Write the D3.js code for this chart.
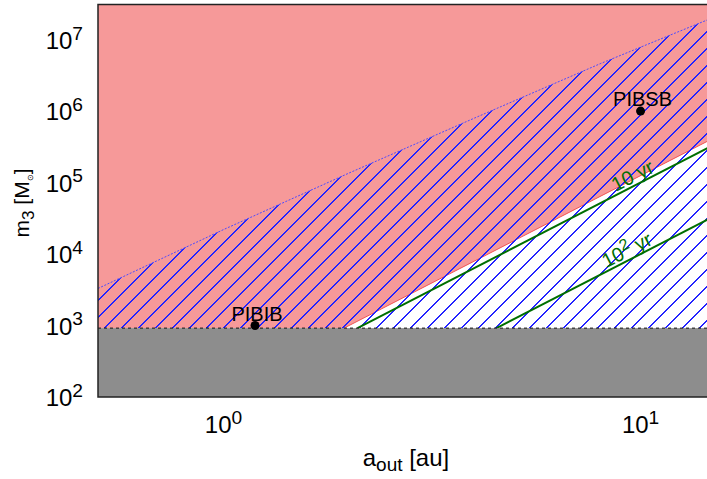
<!DOCTYPE html>
<html>
<head>
<meta charset="utf-8">
<script src="https://cdn.jsdelivr.net/npm/d3@7"></script>
<style>
  body { margin: 0; background: #fff; }
  text { font-family: "Liberation Sans", Arial, sans-serif; }
</style>
</head>
<body>
<svg id="chart" width="707" height="479"></svg>
<script>
"use strict";

// axes
const xDomain = [0.5, 15];
const yDomain = [100, 3.1e7];
const xTicks = [1, 10];
const yTicks = [1e2, 1e3, 1e4, 1e5, 1e6, 1e7];

// lower limit on m3 (grey band)
const massFloor = 920;

// upper edge of the hatched region (dotted blue curve)
const hatchTopA = [0.5, 1, 2, 4, 8, 15];
const hatchTopM = [3.3e3, 2.2e4, 1.36e5, 8.0e5, 4.6e6, 2.06e7];

// lower edge of the red region
const redEdgeA = [1.945, 15];
const redEdgeM = [massFloor, 4.22e5];

// timescale lines
const periodLabels = ["10", "10^2"];
const periodA = [[2.095, 15], [4.514, 15]];
const periodM = [[massFloor, 3.375e5], [massFloor, 3.375e4]];

// systems
const systemNames = ["PIBIB", "PIBSB"];
const systemA = [1.19, 10];
const systemM = [1e3, 1e6];

const svg = d3.select("#chart");
const mLeft = 98, mRight = 714, mTop = 4.5, mBottom = 397;
const hatchStep = 17;

const x = d3.scaleLog().domain(xDomain).range([mLeft, mRight]);
const y = d3.scaleLog().domain(yDomain).range([mBottom, mTop]);

const line = d3.line().x(d => x(d[0])).y(d => y(d[1]));

const hatchTop = hatchTopA.map((a, i) => [a, hatchTopM[i]]);
const hatchPoly = hatchTop.concat([[xDomain[1], massFloor], [xDomain[0], massFloor]]);

const defs = svg.append("defs");
defs.append("clipPath").attr("id", "plotclip")
    .append("rect")
    .attr("x", mLeft).attr("y", mTop)
    .attr("width", mRight - mLeft).attr("height", mBottom - mTop);
defs.append("clipPath").attr("id", "hatchclip")
    .append("path")
    .attr("d", line(hatchPoly) + "Z");

const plot = svg.append("g").attr("clip-path", "url(#plotclip)");

// red (excluded) region
const redPoly = [[xDomain[0], yDomain[1]], [xDomain[1], yDomain[1]]]
    .concat(redEdgeA.map((a, i) => [a, redEdgeM[i]]).reverse())
    .concat([[xDomain[0], massFloor]]);
plot.append("path")
    .attr("d", line(redPoly) + "Z")
    .attr("fill", "#f69999");

// red edge
plot.append("path")
    .attr("d", line(redEdgeA.map((a, i) => [a, redEdgeM[i]])))
    .attr("fill", "none")
    .attr("stroke", "#f05050")
    .attr("stroke-width", 1);

// hatched region, lines at 45 degrees
const hatchG = plot.append("g").attr("clip-path", "url(#hatchclip)");
hatchG.selectAll("line")
    .data(d3.range(mLeft + mTop + 7, mRight + mBottom, hatchStep))
    .enter()
    .append("line")
    .attr("x1", c => c - mBottom).attr("y1", mBottom)
    .attr("x2", c => c - mTop).attr("y2", mTop)
    .attr("stroke", "#2424ff")
    .attr("stroke-width", 1.1)
    .attr("shape-rendering", "crispEdges");

plot.append("path")
    .attr("d", line(hatchTop))
    .attr("fill", "none")
    .attr("stroke", "#4b4bff")
    .attr("stroke-width", 1)
    .attr("stroke-dasharray", "2,1.5");

// timescale lines
periodA.forEach((as, k) => {
    plot.append("path")
        .attr("d", line(as.map((a, i) => [a, periodM[k][i]])))
        .attr("fill", "none")
        .attr("stroke", "#006e00")
        .attr("stroke-width", 2);
});

// grey band
plot.append("rect")
    .attr("x", mLeft).attr("y", y(massFloor))
    .attr("width", mRight - mLeft).attr("height", mBottom - y(massFloor))
    .attr("fill", "#8d8d8d");
plot.append("line")
    .attr("x1", mLeft).attr("x2", mRight)
    .attr("y1", y(massFloor)).attr("y2", y(massFloor))
    .attr("stroke", "#111")
    .attr("stroke-width", 1)
    .attr("stroke-dasharray", "3,3");

function powerText(sel, s, size) {
    const parts = s.split("^");
    sel.append("tspan").text(parts[0]);
    if (parts.length > 1) {
        sel.append("tspan")
            .attr("font-size", size * 0.8)
            .attr("dy", -size * 0.38)
            .text(parts[1]);
    }
}

// timescale labels
periodLabels.forEach((lab, k) => {
    const a0 = periodA[k][0], a1 = periodA[k][1];
    const m0 = periodM[k][0], m1 = periodM[k][1];
    const ang = Math.atan2(y(m1) - y(m0), x(a1) - x(a0)) * 180 / Math.PI;
    const slope = Math.log(m1 / m0) / Math.log(a1 / a0);
    const la = k === 0 ? 9.8 : 9.5;
    const lm = m0 * Math.pow(la / a0, slope);
    const t = plot.append("text")
        .attr("transform", `translate(${x(la)},${y(lm)}) rotate(${ang})`)
        .attr("text-anchor", "middle")
        .attr("dy", -3)
        .attr("font-size", 20)
        .attr("fill", "#006e00");
    powerText(t, lab, 20);
    t.append("tspan").attr("dy", lab.includes("^") ? 20 * 0.38 : 0).text(" yr");
});

// systems
systemNames.forEach((name, i) => {
    plot.append("circle")
        .attr("cx", x(systemA[i])).attr("cy", y(systemM[i]))
        .attr("r", 4.5)
        .attr("fill", "#000");
    plot.append("text")
        .attr("x", x(systemA[i]) + 2).attr("y", y(systemM[i]) - 5)
        .attr("text-anchor", "middle")
        .attr("font-size", 20)
        .attr("fill", "#000")
        .text(name);
});

// frame
svg.append("rect")
    .attr("x", mLeft).attr("y", mTop)
    .attr("width", mRight - mLeft).attr("height", mBottom - mTop)
    .attr("fill", "none")
    .attr("stroke", "#222")
    .attr("stroke-width", 1.5);

// tick labels
yTicks.forEach(t => {
    const txt = svg.append("text")
        .attr("x", 83).attr("y", y(t) + 9)
        .attr("text-anchor", "end")
        .attr("font-size", 24);
    powerText(txt, "10^" + Math.round(Math.log10(t)), 24);
});
xTicks.forEach(t => {
    const txt = svg.append("text")
        .attr("x", x(t)).attr("y", 433)
        .attr("text-anchor", "middle")
        .attr("font-size", 24);
    powerText(txt, "10^" + Math.round(Math.log10(t)), 24);
});

// axis titles
const xl = svg.append("text")
    .attr("x", 406).attr("y", 466)
    .attr("text-anchor", "middle")
    .attr("font-size", 24);
xl.append("tspan").text("a");
xl.append("tspan").attr("font-size", 19).attr("dy", 5).text("out");
xl.append("tspan").attr("dy", -5).text(" [au]");

const yl = svg.append("text")
    .attr("transform", "translate(29,203) rotate(-90)")
    .attr("text-anchor", "middle")
    .attr("font-size", 21);
yl.append("tspan").text("m");
yl.append("tspan").attr("font-size", 17).attr("dy", 5).text("3");
yl.append("tspan").attr("dy", -5).text(" [M");
yl.append("tspan").attr("font-size", 8).attr("dy", 4).text("⊙");
yl.append("tspan").attr("dy", -4).text("]");
</script>
</body>
</html>
